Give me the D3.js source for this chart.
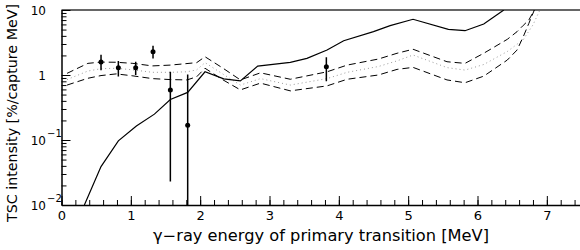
<!DOCTYPE html>
<html>
<head>
<meta charset="utf-8">
<script src="https://cdnjs.cloudflare.com/ajax/libs/d3/7.8.5/d3.min.js"></script>
<style>
  body { margin: 0; background: #fff; }
  svg text { font-family: "DejaVu Sans", "Liberation Sans", sans-serif; fill: #000; }
</style>
</head>
<body>
<div id="chart"></div>
<script>
// ---- data ----
// measured points: energy, intensity, error bar low / high
var ptE   = [0.57, 0.82, 1.07, 1.32, 1.57, 1.82, 3.82];
var ptV   = [1.58, 1.29, 1.29, 2.28, 0.59, 0.168, 1.34];
var ptLo  = [1.18, 0.95, 1.00, 1.80, 0.023, 0.001, 0.80];
var ptHi  = [2.05, 1.64, 1.60, 2.82, 1.12, 1.02, 1.87];

// solid curve
var solidE = [0.33, 0.57, 0.82, 1.08, 1.34, 1.57, 1.82, 2.07, 2.34, 2.58, 2.83, 3.30, 3.54, 3.83, 4.07, 4.50, 4.74, 5.07, 5.58, 5.82, 6.09, 6.38];
var solidV = [0.01, 0.039, 0.097, 0.164, 0.25, 0.42, 0.54, 1.12, 0.87, 0.81, 1.37, 1.56, 1.8, 2.42, 3.37, 4.64, 5.74, 7.2, 5.05, 4.8, 6.1, 10];

// band curves share one energy grid
var bandE  = [0.08, 0.38, 0.57, 0.79, 1.03, 1.31, 1.57, 1.81, 1.95, 2.07, 2.33, 2.58, 2.87, 3.30, 3.83, 4.12, 4.57, 4.84, 5.07, 5.56, 5.82, 6.09, 6.43, 6.57, 6.66, 6.74, 6.82];
var upperV = [1.06, 1.51, 1.58, 1.57, 1.51, 1.38, 1.42, 1.50, 1.55, 1.91, 1.27, 0.84, 1.08, 0.86, 1.12, 1.42, 1.76, 2.16, 2.49, 1.60, 1.51, 2.16, 3.54, 4.64, 5.8, 7.0, 10];
var lowerV = [0.70, 0.89, 0.98, 1.04, 0.97, 0.88, 0.85, 0.84, 0.94, 1.27, 0.84, 0.59, 0.75, 0.57, 0.68, 0.86, 1.00, 1.22, 1.31, 0.84, 0.76, 0.96, 1.70, 2.42, 3.88, 6.2, 10];
var dotE   = [0.08, 0.38, 0.57, 0.79, 1.03, 1.31, 1.57, 1.81, 1.95, 2.07, 2.33, 2.58, 2.87, 3.30, 3.83, 4.12, 4.57, 4.84, 5.07, 5.56, 5.82, 6.09, 6.43, 6.66, 6.80, 6.90];
var dotV   = [0.85, 1.15, 1.25, 1.27, 1.20, 1.10, 1.10, 1.12, 1.20, 1.55, 1.03, 0.70, 0.88, 0.70, 0.88, 1.10, 1.35, 1.65, 2.03, 1.30, 1.19, 1.45, 2.30, 3.50, 5.9, 10];

var xTicks = [0, 1, 2, 3, 4, 5, 6, 7];
var yTicks = [0.01, 0.1, 1, 10];
var yTickLabels = [["10", "\u22122"], ["10", "\u22121"], ["1", ""], ["10", ""]];

// ---- setup ----
var W = 580, H = 250;
var x = d3.scaleLinear().domain([0, 7.5]).range([61.5, 581.5]);
var y = d3.scaleLog().domain([0.01, 10]).range([205, 10]);

var svg = d3.select("#chart").append("svg")
  .attr("width", W).attr("height", H);

svg.append("defs").append("clipPath").attr("id", "plotClip")
  .append("rect").attr("x", 61.5).attr("y", 10)
  .attr("width", 520).attr("height", 195);

// frame top line
svg.append("line")
  .attr("x1", 61.5).attr("x2", W).attr("y1", 10).attr("y2", 10)
  .attr("stroke", "#333").attr("stroke-width", 1.5);

// x axis, ticks pointing up
var xMinor = d3.range(0, 7.51, 0.2).map(function(d) { return +d.toFixed(1); });
svg.append("g").attr("transform", "translate(0,205)")
  .call(d3.axisBottom(x).tickValues(xMinor).tickSize(-5).tickFormat(""))
  .call(function(g) { g.select(".domain").remove(); });

var xAx = svg.append("g").attr("transform", "translate(0,205)")
  .call(d3.axisBottom(x).tickValues(xTicks).tickSize(-9).tickSizeOuter(0).tickPadding(6).tickFormat(d3.format("d")));
xAx.select(".domain").attr("stroke-width", 1.5);
xAx.selectAll("text").attr("font-size", 13).attr("font-family", "DejaVu Sans");

// y axis, ticks pointing right
var yMinor = [];
yTicks.slice(0, 3).forEach(function(t) {
  for (var k = 2; k <= 9; k++) yMinor.push(t * k);
});
svg.append("g").attr("transform", "translate(61.5,0)")
  .call(d3.axisLeft(y).tickValues(yMinor).tickSize(-5).tickFormat(""))
  .call(function(g) { g.select(".domain").remove(); });

var yAx = svg.append("g").attr("transform", "translate(61.5,0)")
  .call(d3.axisLeft(y).tickValues(yTicks).tickSize(-9).tickSizeOuter(0).tickFormat(""));
yAx.select(".domain").attr("stroke-width", 1.5);

// y tick labels with superscripts
yTicks.forEach(function(t, i) {
  var lab = yTickLabels[i];
  svg.append("text")
    .attr("x", 46)
    .attr("y", y(t) + 5)
    .attr("font-size", 12)
    .attr("text-anchor", "end")
    .text(lab[0]);
  if (lab[1]) {
    svg.append("text")
      .attr("x", 47).attr("y", y(t) - 3)
      .attr("font-size", 10)
      .text(lab[1]);
  }
});

// ---- curves ----
var plot = svg.append("g").attr("clip-path", "url(#plotClip)");

function curve(E, V) {
  return d3.line()
    .x(function(d, i) { return x(E[i]); })
    .y(function(d, i) { return y(V[i]); })(V);
}

plot.append("path").attr("d", curve(dotE, dotV))
  .attr("fill", "none").attr("stroke", "#999").attr("stroke-width", 1)
  .attr("stroke-dasharray", "1,3");

plot.append("path").attr("d", curve(bandE, upperV))
  .attr("fill", "none").attr("stroke", "#000").attr("stroke-width", 1)
  .attr("stroke-dasharray", "7,4");

plot.append("path").attr("d", curve(bandE, lowerV))
  .attr("fill", "none").attr("stroke", "#000").attr("stroke-width", 1)
  .attr("stroke-dasharray", "7,4");

plot.append("path").attr("d", curve(solidE, solidV))
  .attr("fill", "none").attr("stroke", "#000").attr("stroke-width", 1.2);

// ---- data points ----
var pts = plot.selectAll(".pt").data(ptE).enter().append("g").attr("class", "pt");
pts.append("line")
  .attr("x1", function(d) { return x(d); })
  .attr("x2", function(d) { return x(d); })
  .attr("y1", function(d, i) { return y(ptLo[i]); })
  .attr("y2", function(d, i) { return y(ptHi[i]); })
  .attr("stroke", "#000").attr("stroke-width", 1.5);
pts.append("circle")
  .attr("cx", function(d) { return x(d); })
  .attr("cy", function(d, i) { return y(ptV[i]); })
  .attr("r", 2.5).attr("fill", "#000");

// ---- axis titles ----
svg.append("text")
  .attr("x", 321).attr("y", 241)
  .attr("text-anchor", "middle")
  .attr("font-size", 15)
  .attr("textLength", 336)
  .attr("lengthAdjust", "spacingAndGlyphs")
  .text("\u03b3\u2212ray energy of primary transition [MeV]");

svg.append("text")
  .attr("transform", "translate(17,113) rotate(-90)")
  .attr("text-anchor", "middle")
  .attr("font-size", 14)
  .attr("textLength", 218)
  .attr("lengthAdjust", "spacingAndGlyphs")
  .text("TSC intensity [%/capture MeV]");
</script>
</body>
</html>
